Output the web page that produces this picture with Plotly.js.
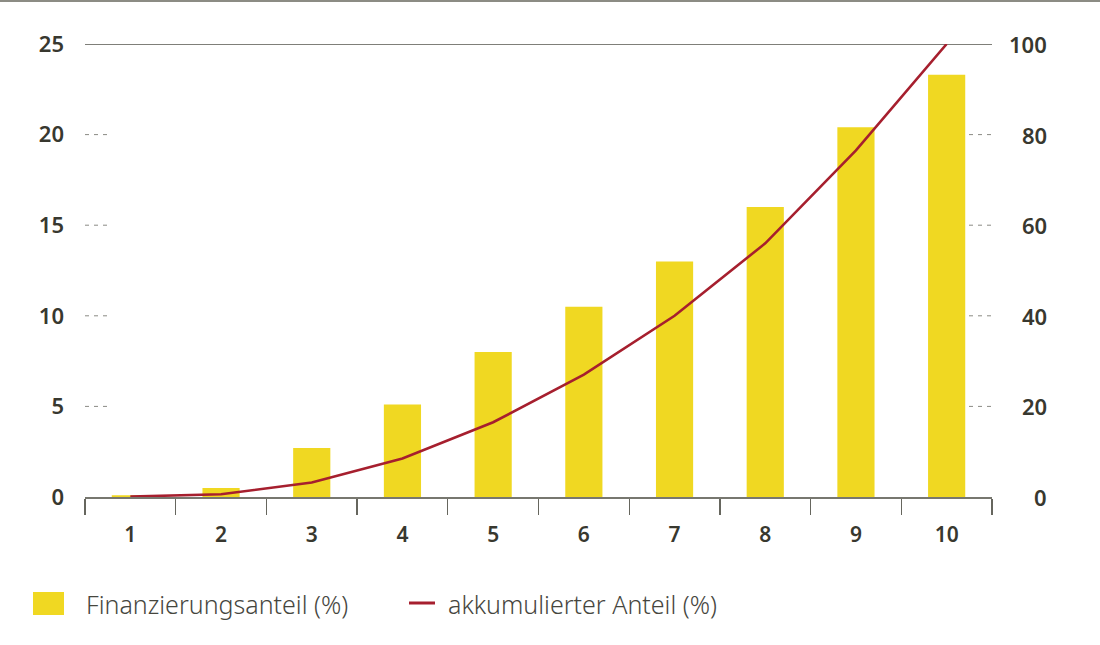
<!DOCTYPE html>
<html>
<head>
<meta charset="utf-8">
<script src="https://cdn.plot.ly/plotly-3.0.1.min.js"></script>
<style>
  html, body { margin: 0; padding: 0; background: #ffffff; }
  #wrap { width: 1100px; height: 643px; border-top: 2px solid #8c8c84; }
  #chart { width: 1100px; height: 643px; }
</style>
</head>
<body>
<div id="wrap"><div id="chart"></div></div>
<script>
// ---- data ----
const categories = ['1', '2', '3', '4', '5', '6', '7', '8', '9', '10'];
const financingShare = [0.1, 0.5, 2.7, 5.1, 8.0, 10.5, 13.0, 16.0, 20.4, 23.3];
const cumulativeShare = [0.1, 0.6, 3.2, 8.5, 16.5, 27.0, 40.0, 56.0, 76.5, 100];
const leftTicks = [0, 5, 10, 15, 20, 25];
const rightTicks = [0, 20, 40, 60, 80, 100];
const legendLabels = ['Finanzierungsanteil (%)', 'akkumulierter Anteil (%)'];

// ---- styling ----
const BAR_COLOR = '#f0d822';
const LINE_COLOR = '#a61f2e';
const TEXT_COLOR = '#38382f';
const FONT = 'Noto Sans, Open Sans, sans-serif';

const W = 1100, H = 643, L = 85, R = 108, T = 42, B = 148;
const pw = W - L - R, ph = H - T - B;
// convert page pixel positions to paper coords (for legend/decoration only)
const px = x => (x - L) / pw;
const py = y => (497 - y) / ph;

const traces = [
  {
    type: 'bar',
    x: categories,
    y: financingShare,
    name: legendLabels[0],
    marker: { color: BAR_COLOR, line: { width: 0 } },
    width: 0.41,
    yaxis: 'y',
    hoverinfo: 'x+y',
    showlegend: false
  },
  {
    type: 'scatter',
    mode: 'lines',
    x: categories,
    y: cumulativeShare,
    name: legendLabels[1],
    line: { color: LINE_COLOR, width: 2.6 },
    yaxis: 'y2',
    showlegend: false,
    cliponaxis: false
  }
];

const shapes = [];
const annotations = [];

// solid top reference line at max of left axis
shapes.push({
  type: 'line', xref: 'paper', yref: 'y', x0: 0, x1: 1,
  y0: leftTicks[leftTicks.length - 1], y1: leftTicks[leftTicks.length - 1],
  line: { color: '#55554d', width: 1.3 }, layer: 'below'
});
// short dashed tick marks on both sides for intermediate ticks
leftTicks.slice(1, -1).forEach(v => {
  shapes.push({
    type: 'line', xref: 'paper', yref: 'y', x0: 0, x1: px(109), y0: v, y1: v,
    line: { color: '#8a8a84', width: 1, dash: '4px,5px' }, layer: 'below'
  });
  shapes.push({
    type: 'line', xref: 'paper', yref: 'y', x0: px(969), x1: 1, y0: v, y1: v,
    line: { color: '#8a8a84', width: 1, dash: '4px,5px' }, layer: 'below'
  });
});

// right axis labels (right aligned)
rightTicks.forEach(v => {
  annotations.push({
    xref: 'paper', yref: 'y2', x: px(1049), y: v, xanchor: 'right', yanchor: 'middle',
    text: String(v), showarrow: false,
    font: { family: FONT, size: 22, color: TEXT_COLOR, weight: 600 }
  });
});

// legend
shapes.push({
  type: 'rect', xref: 'paper', yref: 'paper',
  x0: px(33), x1: px(64), y0: py(615), y1: py(592),
  fillcolor: BAR_COLOR, line: { width: 0 }
});
annotations.push({
  xref: 'paper', yref: 'paper', x: px(84), y: py(604), xanchor: 'left', yanchor: 'middle',
  text: legendLabels[0], showarrow: false,
  font: { family: FONT, size: 25, color: '#46463e', weight: 300 }
});
shapes.push({
  type: 'line', xref: 'paper', yref: 'paper',
  x0: px(409), x1: px(435), y0: py(603), y1: py(603),
  line: { color: LINE_COLOR, width: 3 }
});
annotations.push({
  xref: 'paper', yref: 'paper', x: px(446), y: py(604), xanchor: 'left', yanchor: 'middle',
  text: legendLabels[1], showarrow: false,
  font: { family: FONT, size: 25, color: '#46463e', weight: 300 }
});

const layout = {
  width: W, height: H,
  margin: { l: L, r: R, t: T, b: B, pad: 0 },
  paper_bgcolor: '#ffffff',
  plot_bgcolor: '#ffffff',
  showlegend: false,
  font: { family: FONT, color: TEXT_COLOR },
  xaxis: {
    type: 'category',
    range: [-0.5, categories.length - 0.5],
    showgrid: false,
    zeroline: false,
    showline: true,
    linecolor: '#77776f',
    linewidth: 1.5,
    ticks: 'outside',
    tickson: 'boundaries',
    ticklen: 16,
    tickwidth: 1.3,
    tickcolor: '#66665e',
    ticklabelstandoff: 18,
    tickfont: { family: FONT, size: 21, color: TEXT_COLOR, weight: 600 },
    fixedrange: true
  },
  yaxis: {
    range: [0, 25],
    tickvals: leftTicks,
    ticktext: leftTicks.map(String),
    showgrid: false,
    zeroline: false,
    showline: false,
    ticks: '',
    ticklabelstandoff: 20,
    tickfont: { family: FONT, size: 22, color: TEXT_COLOR, weight: 600 },
    fixedrange: true
  },
  yaxis2: {
    range: [0, 100],
    overlaying: 'y',
    side: 'right',
    tickvals: rightTicks,
    showticklabels: false,
    showgrid: false,
    zeroline: false,
    showline: false,
    ticks: '',
    fixedrange: true
  },
  shapes: shapes,
  annotations: annotations
};

Plotly.newPlot('chart', traces, layout, { displayModeBar: false, staticPlot: true });
</script>
</body>
</html>
